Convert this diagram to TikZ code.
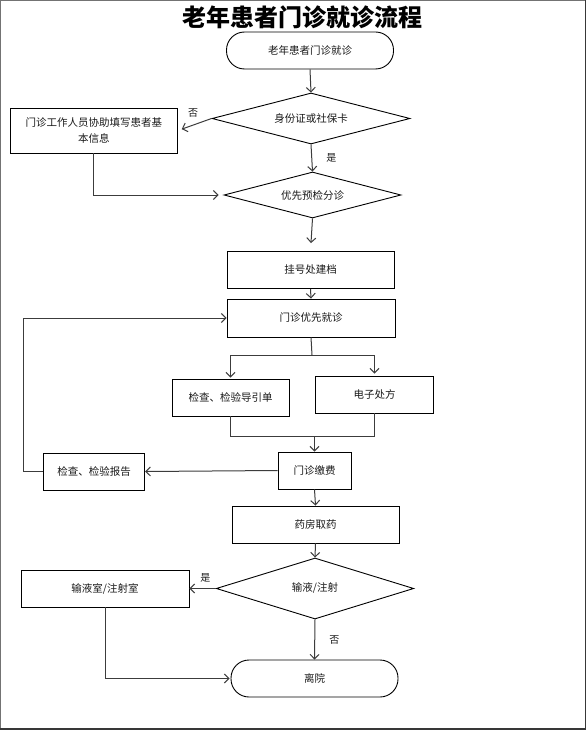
\documentclass[tikz,border=0pt]{standalone}
\usepackage{fontspec}
\setmainfont{Noto Sans CJK SC}
\usetikzlibrary{shapes.geometric,arrows.meta}
\definecolor{txt}{HTML}{1A1A1A}
\definecolor{conn}{HTML}{3C3C3C}
\begin{document}
\begin{tikzpicture}[x=1pt,y=-1pt,
  font=\fontsize{10.5pt}{16pt}\selectfont, text=txt,
  box/.style={draw=black, line width=0.9pt, rectangle, inner sep=0pt, align=center},
  term/.style={box, rounded corners=18pt},
  dec/.style={draw=black, line width=0.9pt, diamond, aspect=3.8, inner sep=0pt},
  conn/.style={draw=conn, line width=1pt},
  arr/.style={conn, -{Straight Barb[length=4.5pt,width=9pt,line width=1pt]}},
  lab/.style={font=\fontsize{10pt}{12pt}\selectfont, inner sep=0pt}]
\useasboundingbox (0,0) rectangle (586,730);
\fill[white] (0,0) rectangle (586,730);
% frame
\fill[black!55] (0,0) rectangle (1.3,730);
\fill[black!55] (0,0) rectangle (586,1);
\fill[black!78] (584.7,0) rectangle (586,730);
\fill[black!78] (0,727.7) rectangle (586,730);

\node[font=\bfseries\fontsize{24pt}{26pt}\selectfont, text=black] (title) at (302,17) {老年患者门诊就诊流程};

\node[term, minimum width=167pt, minimum height=37pt] (start) at (310,50.5) {老年患者门诊就诊};
\node[dec, minimum width=198pt, minimum height=51pt] (d1) at (311,118.5) {身份证或社保卡};
\node[box, minimum width=167.5pt, minimum height=45pt] (fill) at (93.75,130.5) {门诊工作人员协助填写患者基\\本信息};
\node[dec, minimum width=177pt, minimum height=46pt] (d2) at (312.5,195) {优先预检分诊};
\node[box, minimum width=167pt, minimum height=37pt] (reg) at (310.5,270) {挂号处建档};
\node[box, minimum width=168pt, minimum height=38pt] (visit) at (311,318) {门诊优先就诊};
\node[box, minimum width=117pt, minimum height=37pt] (guide) at (230.5,397.5) {检查、检验导引单};
\node[box, minimum width=118pt, minimum height=37pt] (rx) at (374.5,394.5) {电子处方};
\node[box, minimum width=73pt, minimum height=37pt] (pay) at (314.5,470.5) {门诊缴费};
\node[box, minimum width=101.5pt, minimum height=37pt] (report) at (94,471.5) {检查、检验报告};
\node[box, minimum width=167pt, minimum height=37pt] (pharm) at (315.5,524.5) {药房取药};
\node[dec, minimum width=197.5pt, minimum height=61pt] (d3) at (315,588.5) {输液/注射};
\node[box, minimum width=168pt, minimum height=37pt] (inf) at (105,588.5) {输液室/注射室};
\node[term, minimum width=167pt, minimum height=37pt] (leave) at (314.5,678.5) {离院};

\coordinate (loopc) at (23,471.5);
\coordinate (split) at (312,355);
\coordinate (merge) at (314.5,436);

\draw[arr] (start.south) -- (d1.north);
\draw[arr, shorten >=4pt] (d1.west) -- (fill.east) node[lab, pos=0.55, above=7pt] {否};
\draw[arr, shorten >=5pt] (fill.south) |- (d2.west);
\draw[arr] (d1.south) -- (d2.north) node[lab, midway, right=14pt] {是};
\draw[arr, shorten >=8pt] (d2.south) -- (reg.north);
\draw[arr] (reg.south) -- (visit.north);
\draw[conn] (visit.south) -- (split);
\draw[arr, shorten >=1pt] (split) -| (guide.north);
\draw[arr, shorten >=2pt] (split) -| (rx.north);
\draw[conn] (guide.south) |- (merge);
\draw[conn] (rx.south) |- (merge);
\draw[arr] (merge) -- (pay.north);
\draw[arr] (pay.west) -- (report.east);
\draw[arr] (report.west) -- (loopc) |- (visit.west);
\draw[arr] (pay.south) -- (pharm.north);
\draw[arr] (pharm.south) -- (d3.north);
\draw[arr] (d3.west) -- (inf.east) node[lab, pos=0.4, above=6pt] {是};
\draw[arr, shorten >=1pt] (inf.south) |- (leave.west);
\draw[arr] (d3.south) -- (leave.north) node[lab, midway, right=14pt] {否};
\end{tikzpicture}
\end{document}
